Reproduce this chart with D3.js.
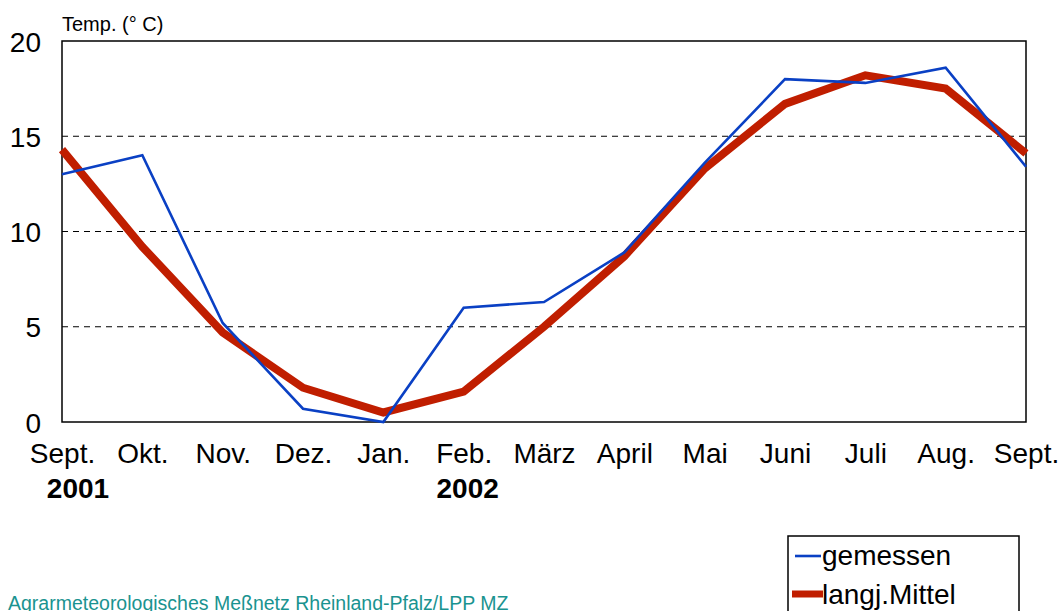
<!DOCTYPE html>
<html><head><meta charset="utf-8">
<script src="https://cdn.jsdelivr.net/npm/d3@7"></script>
<style>body{margin:0;background:#fff}svg{display:block;font-family:"Liberation Sans",Arial,sans-serif}</style>
</head><body>
<svg id="c" width="1062" height="611"></svg>
<script>
const months = ["Sept.","Okt.","Nov.","Dez.","Jan.","Feb.","März","April","Mai","Juni","Juli","Aug.","Sept."];
const gemessen = [13.0,14.0,5.2,0.7,0.0,6.0,6.3,8.9,13.6,18.0,17.8,18.6,13.4];
const langjMittel = [14.3,9.2,4.7,1.8,0.5,1.6,5.0,8.7,13.3,16.7,18.2,17.5,14.1];
const yTicks = [0,5,10,15,20];
const yearLabels = ["2001","2002"];
const yearMonthIndex = [0,5];
const seriesNames = ["gemessen","langj.Mittel"];

const svg = d3.select("#c");
const L=62,R=1026,T=41,B=422;
const FF = "Liberation Sans, Arial, sans-serif";
const yearShift = [16,4];
const x = d3.scalePoint().domain(d3.range(months.length)).range([L,R]);
const y = d3.scaleLinear().domain([0,20]).range([B,T]);

// grid
svg.append("g").selectAll("line").data([5,10,15]).join("line")
  .attr("x1",L).attr("x2",R).attr("y1",d=>y(d)).attr("y2",d=>y(d))
  .attr("stroke","#000").attr("stroke-width",1).attr("stroke-dasharray","6,5");

// frame
svg.append("rect").attr("x",L).attr("y",T).attr("width",R-L).attr("height",B-T)
  .attr("fill","none").attr("stroke","#000").attr("stroke-width",1.5);

// y axis labels
const ya = svg.append("g").attr("transform",`translate(${L},0)`)
  .call(d3.axisLeft(y).tickValues(yTicks).tickSize(0).tickPadding(21).tickFormat(d3.format("d")));
ya.select(".domain").remove();
ya.selectAll("text").attr("font-size",28).attr("fill","#000").attr("font-family",FF).attr("dy","0.36em");

// x axis labels
const xa = svg.append("g").attr("transform",`translate(0,${B})`)
  .call(d3.axisBottom(x).tickSize(0).tickFormat(i=>months[i]));
xa.select(".domain").remove();
xa.selectAll("text").attr("font-size",28).attr("fill","#000").attr("font-family",FF).attr("y",41).attr("dy",0);

// years
svg.append("g").selectAll("text").data(yearLabels).join("text")
  .attr("x",(d,i)=>x(yearMonthIndex[i])+yearShift[i]).attr("y",498).attr("text-anchor","middle")
  .attr("font-size",28).attr("font-weight","bold").text(d=>d);

svg.append("text").attr("x",L).attr("y",31).attr("font-size",20).text("Temp. (° C)");

const line = d3.line().x((d,i)=>x(i)).y(d=>y(d));
svg.append("path").datum(langjMittel).attr("d",line).attr("fill","none")
  .attr("stroke","#c01e00").attr("stroke-width",8).attr("stroke-linejoin","miter");
svg.append("path").datum(gemessen).attr("d",line).attr("fill","none")
  .attr("stroke","#0a40c4").attr("stroke-width",2.6);

// legend
const lg = svg.append("g");
lg.append("rect").attr("x",788).attr("y",536).attr("width",231).attr("height",90)
  .attr("fill","#fff").attr("stroke","#000").attr("stroke-width",1.5);
lg.append("line").attr("x1",795).attr("x2",821).attr("y1",556).attr("y2",556).attr("stroke","#0a40c4").attr("stroke-width",2.6);
lg.append("line").attr("x1",792).attr("x2",823).attr("y1",594).attr("y2",594).attr("stroke","#c01e00").attr("stroke-width",7);
lg.append("text").attr("x",822).attr("y",565).attr("font-size",28).text(seriesNames[0]);
lg.append("text").attr("x",822).attr("y",604).attr("font-size",28).text(seriesNames[1]);

svg.append("text").attr("x",8).attr("y",610).attr("font-size",19.5).attr("fill","#1a9390")
  .text("Agrarmeteorologisches Meßnetz Rheinland-Pfalz/LPP MZ");
</script>
</body></html>
